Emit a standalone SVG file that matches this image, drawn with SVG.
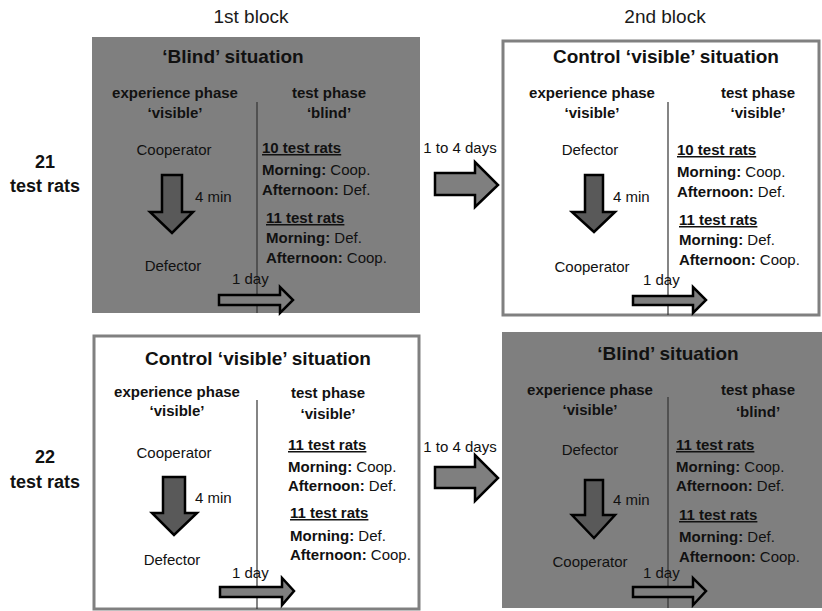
<svg xmlns="http://www.w3.org/2000/svg" width="822" height="611" viewBox="0 0 822 611">
<style>
text{font-family:"Liberation Sans",Arial,sans-serif;fill:#111}
.b{font-weight:bold}
.t{font-size:19px;font-weight:bold;text-anchor:middle}
.h{font-size:15px;font-weight:bold;text-anchor:middle}
.n{font-size:15px}
.c{font-size:15px;text-anchor:middle}
.u{font-size:15px;font-weight:bold;text-decoration:underline}
.blk{font-size:19px;text-anchor:middle;fill:#1a1a1a}
.gray{fill:#7f7f7f}
.white{fill:#fff;stroke:#808080;stroke-width:3}
.div{stroke:#333;stroke-width:1.2}
.down{fill:#595959;stroke:#000;stroke-width:2.5;stroke-linejoin:miter}
.day{fill:#7f7f7f;stroke:#000;stroke-width:2.5}
.big{fill:#7f7f7f;stroke:#000;stroke-width:2.5}
</style>

<text x="251" y="23" class="blk">1st block</text>
<text x="665" y="23" class="blk">2nd block</text>

<g id="label21">
<text x="45" y="168" class="b" font-size="18" text-anchor="middle">21</text>
<text x="45" y="192" class="b" font-size="18" text-anchor="middle">test rats</text>
</g>
<g id="label22">
<text x="45" y="463" class="b" font-size="18" text-anchor="middle">22</text>
<text x="45" y="488" class="b" font-size="18" text-anchor="middle">test rats</text>
</g>

<g id="panel1">
<rect x="92" y="37" width="328" height="276" class="gray"/>
<line x1="257" y1="102" x2="257" y2="313" class="div"/>
<text x="233" y="63" class="t">‘Blind’ situation</text>
<text x="175" y="98" class="h">experience phase</text>
<text x="175" y="118" class="h">‘visible’</text>
<text x="329" y="98" class="h">test phase</text>
<text x="329" y="118" class="h">‘blind’</text>
<text x="174" y="155" class="c">Cooperator</text>
<path d="M162,175 H182 V212 H193 L172,233 L150,212 H162 Z" class="down"/>
<text x="195" y="202" class="n">4 min</text>
<text x="173" y="271" class="c">Defector</text>
<text x="232" y="284" class="n">1 day</text>
<path d="M219,295 H280 V287 L293,300 L280,313 V305 H219 Z" class="day"/>
<text x="262" y="153" class="u">10 test rats</text>
<text x="262" y="175" class="n"><tspan class="b">Morning:</tspan> Coop.</text>
<text x="262" y="195" class="n"><tspan class="b">Afternoon:</tspan> Def.</text>
<text x="266" y="223" class="u">11 test rats</text>
<text x="266" y="243" class="n"><tspan class="b">Morning:</tspan> Def.</text>
<text x="266" y="263" class="n"><tspan class="b">Afternoon:</tspan> Coop.</text>
</g>

<g id="panel2">
<rect x="503" y="41" width="316" height="274" class="white"/>
<line x1="668" y1="102" x2="668" y2="315" class="div"/>
<text x="666" y="63" class="t">Control ‘visible’ situation</text>
<text x="592" y="98" class="h">experience phase</text>
<text x="592" y="118" class="h">‘visible’</text>
<text x="758" y="98" class="h">test phase</text>
<text x="758" y="118" class="h">‘visible’</text>
<text x="590" y="155" class="c">Defector</text>
<path d="M585,175 H603 V212 H615 L594,232 L572,212 H585 Z" class="down"/>
<text x="613" y="202" class="n">4 min</text>
<text x="592" y="272" class="c">Cooperator</text>
<text x="643" y="285" class="n">1 day</text>
<path d="M633,296 H693 V287 L706,300 L693,313 V305 H633 Z" class="day"/>
<text x="677" y="155" class="u">10 test rats</text>
<text x="677" y="177" class="n"><tspan class="b">Morning:</tspan> Coop.</text>
<text x="677" y="197" class="n"><tspan class="b">Afternoon:</tspan> Def.</text>
<text x="679" y="225" class="u">11 test rats</text>
<text x="679" y="245" class="n"><tspan class="b">Morning:</tspan> Def.</text>
<text x="679" y="265" class="n"><tspan class="b">Afternoon:</tspan> Coop.</text>
</g>

<g id="panel3">
<rect x="94" y="336" width="325" height="273" class="white"/>
<line x1="257" y1="400" x2="257" y2="609" class="div"/>
<text x="258" y="365" class="t">Control ‘visible’ situation</text>
<text x="177" y="397" class="h">experience phase</text>
<text x="177" y="416" class="h">‘visible’</text>
<text x="328" y="398" class="h">test phase</text>
<text x="328" y="419" class="h">‘visible’</text>
<text x="174" y="458" class="c">Cooperator</text>
<path d="M163,477 H185 V513 H197 L174,535 L152,513 H163 Z" class="down"/>
<text x="195" y="503" class="n">4 min</text>
<text x="172" y="565" class="c">Defector</text>
<text x="232" y="578" class="n">1 day</text>
<path d="M220,587 H282 V578 L294,591 L282,605 V597 H220 Z" class="day"/>
<text x="288" y="450" class="u">11 test rats</text>
<text x="288" y="472" class="n"><tspan class="b">Morning:</tspan> Coop.</text>
<text x="288" y="491" class="n"><tspan class="b">Afternoon:</tspan> Def.</text>
<text x="290" y="518" class="u">11 test rats</text>
<text x="290" y="541" class="n"><tspan class="b">Morning:</tspan> Def.</text>
<text x="290" y="560" class="n"><tspan class="b">Afternoon:</tspan> Coop.</text>
</g>

<g id="panel4">
<rect x="502" y="332" width="320" height="276" class="gray"/>
<line x1="668" y1="397" x2="668" y2="608" class="div"/>
<text x="668" y="360" class="t">‘Blind’ situation</text>
<text x="590" y="395" class="h">experience phase</text>
<text x="590" y="415" class="h">‘visible’</text>
<text x="758" y="395" class="h">test phase</text>
<text x="758" y="417" class="h">‘blind’</text>
<text x="590" y="455" class="c">Defector</text>
<path d="M585,480 H603 V515 H615 L594,538 L572,515 H585 Z" class="down"/>
<text x="613" y="505" class="n">4 min</text>
<text x="590" y="567" class="c">Cooperator</text>
<text x="643" y="578" class="n">1 day</text>
<path d="M633,587 H693 V578 L706,591 L693,605 V597 H633 Z" class="day"/>
<text x="676" y="450" class="u">11 test rats</text>
<text x="676" y="472" class="n"><tspan class="b">Morning:</tspan> Coop.</text>
<text x="676" y="491" class="n"><tspan class="b">Afternoon:</tspan> Def.</text>
<text x="679" y="520" class="u">11 test rats</text>
<text x="679" y="542" class="n"><tspan class="b">Morning:</tspan> Def.</text>
<text x="679" y="562" class="n"><tspan class="b">Afternoon:</tspan> Coop.</text>
</g>

<g id="connectors">
<text x="460" y="153" class="c">1 to 4 days</text>
<path d="M435,173 H475 V162 L498,185 L475,207 V195 H435 Z" class="big"/>
<text x="460" y="452" class="c">1 to 4 days</text>
<path d="M435,467 H475 V455 L498,478 L475,501 V488 H435 Z" class="big"/>
</g>
</svg>
